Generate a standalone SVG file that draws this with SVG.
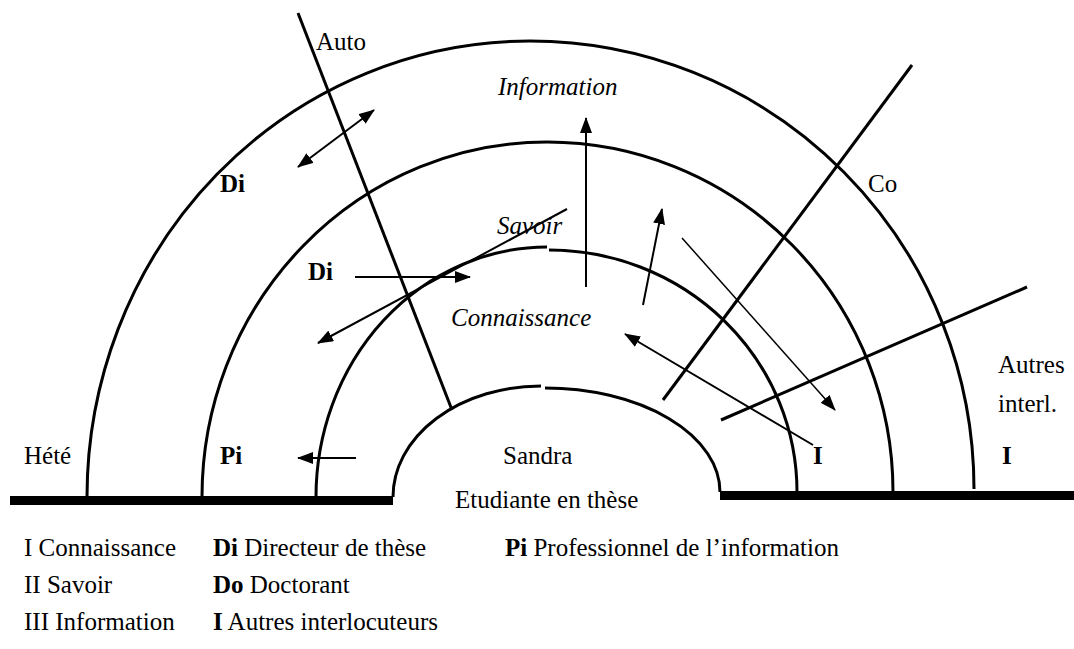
<svg xmlns="http://www.w3.org/2000/svg" width="1074" height="649" viewBox="0 0 1074 649">
<style>
text{font-family:"Liberation Serif","Times New Roman",serif;font-size:25px;fill:#000}
.b{font-weight:bold}
.i{font-style:italic}
.arc{fill:none;stroke:#000;stroke-width:3}
.ln{fill:none;stroke:#000;stroke-width:3}
.ar{fill:none;stroke:#000;stroke-width:2}
.thin{fill:none;stroke:#000;stroke-width:1.5}
</style>
<defs>
<marker id="ah" markerUnits="userSpaceOnUse" markerWidth="16" markerHeight="12" refX="15" refY="6" orient="auto-start-reverse"><path d="M0,0 L16,6 L0,12 z" fill="#000"/></marker>
</defs>
<rect width="1074" height="649" fill="#fff"/>
<g id="base">
<rect x="10" y="496" width="383" height="9" fill="#000"/>
<rect x="720" y="491" width="354" height="9" fill="#000"/>
</g>
<g id="ring-information"><path class="arc" d="M87 497 A443 456 0 0 1 530 41 A444 448 0 0 1 974 489"/></g>
<g id="ring-savoir"><path class="arc" d="M202 497 A345 355 0 0 1 547 142 A346 350 0 0 1 893 492"/></g>
<g id="ring-connaissance"><path class="arc" d="M316 497 A231 250 0 0 1 547 247"/><path class="arc" d="M549 250 A248 242 0 0 1 797 492"/></g>
<g id="sandra"><path class="arc" d="M393 497 A148 111 0 0 1 541 386"/><path class="arc" d="M545 388 A175 104 0 0 1 720 492"/>
<text x="503" y="464">Sandra</text><text x="455" y="508">Etudiante en thèse</text></g>
<g id="connectors">
<line class="ln" x1="298" y1="13" x2="452" y2="410"/>
<line class="ln" x1="912" y1="65" x2="663" y2="400"/>
<line class="ln" x1="1027" y1="287" x2="721" y2="420"/>
<line class="ar" x1="567" y1="209" x2="318" y2="343" marker-end="url(#ah)"/>
<line class="ar" x1="586" y1="287" x2="586" y2="118" marker-end="url(#ah)"/>
<line class="ar" x1="643" y1="305" x2="662" y2="209" marker-end="url(#ah)"/>
<line class="thin" x1="682" y1="238" x2="835" y2="410" marker-end="url(#ah)"/>
<line class="ar" x1="813" y1="445" x2="625" y2="334" marker-end="url(#ah)"/>
<line class="ar" x1="355" y1="277" x2="470" y2="277" marker-end="url(#ah)"/>
<line class="ar" x1="298" y1="167" x2="374" y2="110" marker-start="url(#ah)" marker-end="url(#ah)"/>
<line class="ar" x1="356" y1="458" x2="298" y2="458" marker-end="url(#ah)"/>
</g>
<g id="labels">
<text x="316" y="50">Auto</text>
<text class="i" x="498" y="95">Information</text>
<text class="b" x="220" y="192">Di</text>
<text x="868" y="192">Co</text>
<text class="i" x="497" y="234">Savoir</text>
<text class="b" x="308" y="280">Di</text>
<text class="i" x="451" y="326">Connaissance</text>
<text x="998" y="373">Autres</text>
<text x="998" y="412">interl.</text>
<text x="24" y="464">Hété</text>
<text class="b" x="220" y="464">Pi</text>
<text class="b" x="813" y="464">I</text>
<text class="b" x="1002" y="464">I</text>
</g>
<g id="legend">
<text x="24" y="556">I Connaissance</text>
<text x="24" y="593">II Savoir</text>
<text x="24" y="630">III Information</text>
<text x="213" y="556"><tspan class="b">Di</tspan> Directeur de thèse</text>
<text x="213" y="593"><tspan class="b">Do</tspan> Doctorant</text>
<text x="213" y="630"><tspan class="b">I</tspan> Autres interlocuteurs</text>
<text x="505" y="556"><tspan class="b">Pi</tspan> Professionnel de l’information</text>
</g>
</svg>
